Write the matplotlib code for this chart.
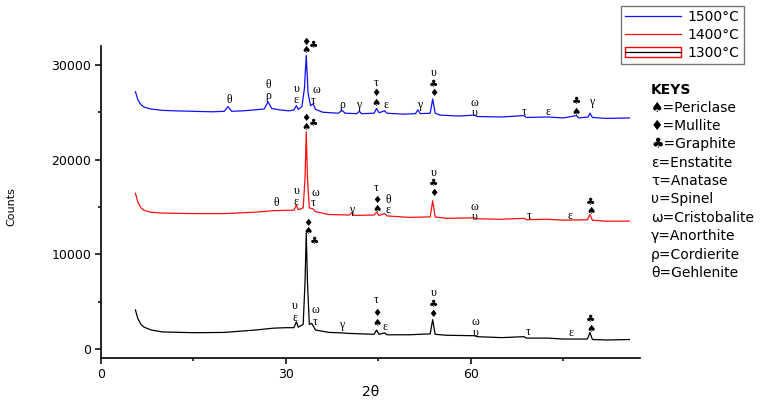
import matplotlib
matplotlib.use("Agg")
import matplotlib.pyplot as plt
from matplotlib.patches import Rectangle
from matplotlib.lines import Line2D
from matplotlib.legend_handler import HandlerTuple

# ---------------- data ----------------
two_theta_1500 = [5.6, 6.0, 6.5, 7.0, 8.0, 10, 12, 15, 18, 20.0, 20.6, 21.2, 23, 25, 26.5, 27.1, 27.7,
                  29, 30.5, 31.3, 31.7, 32.0, 32.6, 33.0, 33.3, 33.6, 34.0, 34.4, 34.8, 36, 38.5, 39.1,
                  39.6, 41.5, 41.9, 42.3, 44.3, 44.7, 45.1, 46.0, 46.4, 49, 51.0, 51.4, 51.8, 53.4,
                  53.8, 54.2, 55, 58, 60.6, 61, 65, 68.6, 69, 72.4, 75, 77.1, 77.5, 79.0, 79.3, 79.7,
                  82, 85.7]
counts_1500 = [27170, 26300, 25800, 25550, 25350, 25200, 25150, 25100, 25050, 25100, 25600, 25100,
               25150, 25250, 25350, 26100, 25400, 25250, 25150, 25250, 25700, 25300, 25600, 27500,
               31000, 27000, 25700, 25900, 25300, 25000, 24900, 25200, 24900, 24850, 25100, 24850,
               24900, 25400, 24950, 25150, 24900, 24800, 24850, 25250, 24850, 24900, 26400, 24900,
               24700, 24600, 24700, 24550, 24500, 24650, 24450, 24500, 24400, 24650, 24400, 24500,
               24900, 24450, 24350, 24400]

two_theta_1400 = [5.6, 6.0, 6.5, 7, 8, 10, 15, 20, 25, 28, 30, 31.3, 31.7, 32.0, 32.8, 33.1, 33.3, 33.5,
                  33.8, 34.4, 34.8, 37, 40.3, 40.7, 41.1, 44.3, 44.7, 45.1, 46, 46.4, 50, 53.4, 53.8,
                  54.2, 56, 60.6, 61, 65, 68.6, 69, 72.4, 75, 78.9, 79.3, 79.7, 82, 85.7]
counts_1400 = [16440, 15500, 14900, 14650, 14450, 14350, 14300, 14300, 14450, 14600, 14650, 14650,
               15200, 14700, 14900, 18000, 22950, 18000, 14900, 14800, 14500, 14200, 14150, 14400,
               14100, 14150, 14450, 14100, 14300, 14050, 13900, 13950, 15650, 13950, 13800, 13850,
               13750, 13700, 13800, 13650, 13700, 13600, 13650, 14200, 13600, 13500, 13500]

two_theta_1300 = [5.6, 6.0, 6.5, 7, 8.2, 10, 15, 20, 25, 28, 30, 31.3, 31.7, 32.0, 32.8, 33.1, 33.3,
                  33.5, 33.8, 34.2, 34.8, 37, 39.0, 40, 44.3, 44.7, 45.1, 46, 46.4, 50, 53.4, 53.8,
                  54.2, 56, 60.6, 61, 65, 68.6, 69, 72.4, 75, 78.9, 79.3, 79.7, 82, 85.7]
counts_1300 = [4120, 3200, 2600, 2300, 2000, 1800, 1720, 1750, 2000, 2200, 2250, 2250, 2880, 2300,
               2600, 7000, 12250, 7000, 2600, 2700, 2000, 1750, 1700, 1650, 1550, 2000, 1550, 1700,
               1500, 1500, 1600, 3100, 1550, 1450, 1400, 1300, 1200, 1300, 1150, 1150, 1050, 1050,
               1750, 1000, 950, 1000]

series_labels = ["1500°C", "1400°C", "1300°C"]
x_ticks = [0, 30, 60]
y_ticks = [0, 10000, 20000, 30000]

key_entries = ["\u2660=Periclase", "\u2666=Mullite", "\u2663=Graphite", "\u03b5=Enstatite",
               "\u03c4=Anatase", "\u03c5=Spinel", "\u03c9=Cristobalite", "\u03b3=Anorthite",
               "\u03c1=Cordierite", "\u03b8=Gehlenite"]

# peak annotations: (symbol, 2theta, counts)
SP, DI, CL = "\u2660", "\u2666", "\u2663"
annotations = [
    # 1500
    ("θ", 20.8, 26300), ("θ", 27.1, 27900), ("ρ", 27.1, 26700), ("υ", 31.7, 27500), ("ε", 31.7, 26250),
    (DI, 33.2, 32450), (SP, 33.2, 31570), (CL, 34.4, 32100), ("ω", 35.0, 27300), ("τ", 34.4, 26150),
    ("ρ", 39.1, 25770), ("γ", 41.8, 25770), ("τ", 44.6, 28050), (DI, 44.6, 27000), (SP, 44.6, 26010),
    ("ε", 46.3, 25770), ("γ", 51.6, 25770), ("υ", 54.0, 29150), (CL, 54.0, 27980), (DI, 54.0, 27000),
    ("ω", 60.6, 25950), ("υ", 60.6, 24900), ("τ", 68.6, 25060), ("ε", 72.5, 25060),
    (CL, 77.1, 26190), (SP, 77.1, 25060), ("γ", 79.5, 26120),
    # 1400
    ("θ", 28.5, 15390), ("υ", 31.7, 16700), ("ε", 31.7, 15500), (DI, 33.2, 24400), (SP, 33.2, 23480),
    (CL, 34.4, 23830), ("ω", 34.7, 16440), ("τ", 34.4, 15390), ("γ", 40.6, 14680),
    ("τ", 44.7, 17050), (DI, 44.7, 15730), (SP, 44.7, 14750), ("θ", 46.6, 15780), ("ε", 46.6, 14630),
    ("υ", 54.0, 18600), (CL, 54.0, 17500), (DI, 54.0, 16440), ("ω", 60.6, 15040), ("υ", 60.6, 13950),
    ("τ", 69.4, 14080), ("ε", 76.0, 14080), (CL, 79.4, 15560), (SP, 79.4, 14580),
    # 1300
    ("υ", 31.4, 4550), ("ε", 31.4, 3300), (DI, 33.6, 13340), (SP, 33.6, 12490), (CL, 34.7, 11440),
    ("ω", 34.7, 4150), ("τ", 34.7, 2850), ("γ", 39.0, 2530), ("τ", 44.7, 5150), (DI, 44.7, 3830),
    (SP, 44.7, 2710), ("ε", 46.1, 2350), ("υ", 53.9, 5950), (CL, 53.9, 4750), (DI, 53.9, 3700),
    ("ω", 60.8, 2880), ("υ", 60.8, 1720), ("τ", 69.2, 1830), ("ε", 76.3, 1660),
    (CL, 79.4, 3140), (SP, 79.4, 2080),
]

# ---------------- figure ----------------
plt.rcParams['font.family'] = ['DejaVu Sans']
fig = plt.figure(figsize=(7.76, 4.04), dpi=100)
ax = fig.add_axes([0.130, 0.1139, 0.6946, 0.7723])

l1, = ax.plot(two_theta_1500, counts_1500, color="#1010ff", lw=0.9)
l2, = ax.plot(two_theta_1400, counts_1400, color="#ff1010", lw=0.9)
l3, = ax.plot(two_theta_1300, counts_1300, color="black", lw=0.9)

ax.set_xlim(0, 87.4)
ax.set_ylim(-950, 32000)
ax.set_xticks(x_ticks)
ax.set_xticks([15, 45, 75], minor=True)
ax.set_yticks(y_ticks)
ax.set_yticks([5000, 15000, 25000], minor=True)
ax.spines['top'].set_visible(False)
ax.spines['right'].set_visible(False)
for s in ('left', 'bottom'):
    ax.spines[s].set_linewidth(1.2)
ax.tick_params(which='major', length=4, width=1.1, labelsize=9, pad=3)
ax.tick_params(which='minor', length=2.5, width=1.1)
ax.set_xlabel("2θ", fontsize=10)
ax.xaxis.set_label_coords(0.5, -0.088)
ax.set_ylabel("Counts", fontsize=8)
ax.yaxis.set_label_coords(-0.156, 0.484)

for sym, xx, yy in annotations:
    if sym in (SP, DI, CL):
        ax.text(xx, yy, sym, fontsize=7.5, ha='center', va='center', family=['DejaVu Sans'],
                clip_on=False)
    else:
        ax.text(xx, yy, sym, fontsize=8.5, ha='center', va='center',
                family=['Liberation Serif', 'DejaVu Serif'], clip_on=False)

# legend
h3 = (Rectangle((0, 0), 1, 1, facecolor='none', edgecolor='red', lw=1.0),
      Line2D([], [], color='black', lw=0.9))
fig.legend([l1, l2, h3], series_labels, loc='upper left',
           bbox_to_anchor=(621 / 776, 1 - 6 / 404), fontsize=10, frameon=True, fancybox=False,
           edgecolor='#555555', handlelength=4.0, handletextpad=0.5, borderpad=0.3,
           labelspacing=0.28, borderaxespad=0,
           handler_map={tuple: HandlerTuple(ndivide=1)})

# keys
fig.text(651 / 776, 1 - 90 / 404, "KEYS", fontsize=10, fontweight='bold', va='center', ha='left')
for i, k in enumerate(key_entries):
    fig.text(651 / 776, 1 - (107.5 + 18.4 * i) / 404, k, fontsize=10, va='center', ha='left')

fig.savefig("out.png", dpi=100)
